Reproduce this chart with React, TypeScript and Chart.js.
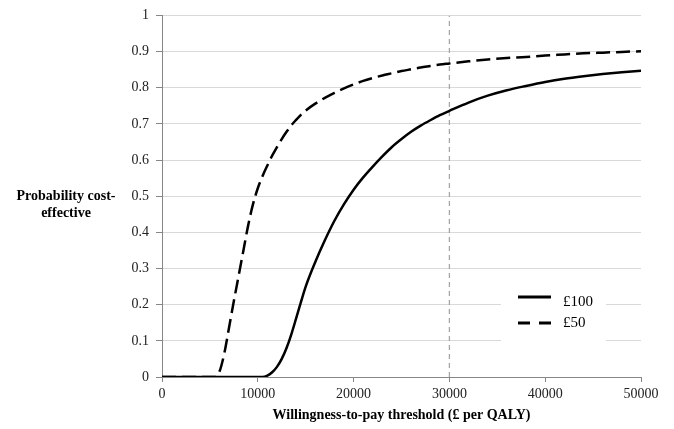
import React, { useEffect, useRef } from "react";
import Chart from "chart.js/auto";

const thresholds = [0, 5000, 5500, 6000, 6500, 7000, 7500, 8000, 8500, 9000, 9500, 10000, 10500, 11000, 11500, 12000, 12500, 13000, 13500, 14000, 14500, 15000, 16000, 17000, 18000, 19000, 20000, 21000, 22000, 23000, 24000, 25000, 26000, 27000, 28000, 29000, 30000, 32000, 34000, 36000, 38000, 40000, 42000, 44000, 46000, 48000, 50000];

const prob100 = [0, 0, 0, 0, 0, 0, 0, 0, 0, 0, 0, 0, 0, 0.004, 0.013, 0.028, 0.05, 0.08, 0.118, 0.162, 0.207, 0.25, 0.318, 0.378, 0.432, 0.478, 0.518, 0.552, 0.582, 0.61, 0.636, 0.658, 0.678, 0.695, 0.71, 0.724, 0.736, 0.759, 0.778, 0.793, 0.805, 0.816, 0.825, 0.832, 0.838, 0.843, 0.847];

const prob50 = [0, 0, 0, 0.015, 0.065, 0.137, 0.21, 0.28, 0.35, 0.42, 0.478, 0.522, 0.556, 0.585, 0.612, 0.636, 0.658, 0.678, 0.696, 0.711, 0.725, 0.737, 0.756, 0.772, 0.786, 0.798, 0.809, 0.819, 0.827, 0.834, 0.84, 0.846, 0.851, 0.856, 0.86, 0.864, 0.867, 0.873, 0.878, 0.882, 0.885, 0.889, 0.892, 0.895, 0.897, 0.899, 0.901];

const seriesLabels = ["£100", "£50"];
const refLineX = 30000;
const refLineY = [0, 1];
const xTitle = "Willingness-to-pay threshold (£ per QALY)";
const yTitleLines = ["Probability cost-", "effective"];

const SERIF = "'Liberation Serif', 'Times New Roman', serif";

export default function App() {
  const ref = useRef<HTMLCanvasElement | null>(null);

  useEffect(() => {
    document.body.style.margin = "0";
    if (!ref.current) return;

    const yTitlePlugin = {
      id: "yTitle",
      afterDraw(chart: any) {
        const ctx = chart.ctx;
        ctx.save();
        ctx.font = `bold 14px ${SERIF}`;
        ctx.fillStyle = "#000";
        ctx.textAlign = "center";
        ctx.textBaseline = "middle";
        yTitleLines.forEach((t, i) => ctx.fillText(t, 66, 196 + i * 17));
        ctx.restore();
      },
    };

    const legendPlugin = {
      id: "boxLegend",
      beforeDatasetsDraw(chart: any) {
        const ctx = chart.ctx;
        ctx.save();
        ctx.fillStyle = "#fff";
        ctx.fillRect(501, 283, 105, 64);
        ctx.restore();
      },
      afterDatasetsDraw(chart: any) {
        const ctx = chart.ctx;
        ctx.save();
        ctx.strokeStyle = "#000";
        ctx.lineWidth = 3;
        ctx.beginPath();
        ctx.moveTo(518, 297);
        ctx.lineTo(551, 297);
        ctx.stroke();
        ctx.setLineDash([12, 9]);
        ctx.beginPath();
        ctx.moveTo(518, 323);
        ctx.lineTo(551, 323);
        ctx.stroke();
        ctx.setLineDash([]);
        ctx.font = `15px ${SERIF}`;
        ctx.fillStyle = "#000";
        ctx.textAlign = "left";
        ctx.textBaseline = "middle";
        ctx.fillText(seriesLabels[0], 563, 302);
        ctx.fillText(seriesLabels[1], 563, 323);
        ctx.restore();
      },
    };

    const chart = new Chart(ref.current, {
      type: "line",
      data: {
        datasets: [
          {
            label: "ref",
            data: refLineY.map((y) => ({ x: refLineX, y })),
            borderColor: "#a6a6a6",
            borderWidth: 1.3,
            borderDash: [5, 4],
            pointRadius: 0,
            order: 3,
          },
          {
            label: seriesLabels[0],
            data: thresholds.map((x, i) => ({ x, y: prob100[i] })),
            borderColor: "#000",
            borderWidth: 2.5,
            pointRadius: 0,
            cubicInterpolationMode: "monotone",
            order: 1,
          },
          {
            label: seriesLabels[1],
            data: thresholds.map((x, i) => ({ x, y: prob50[i] })),
            borderColor: "#000",
            borderWidth: 2.5,
            borderDash: [14, 6],
            pointRadius: 0,
            cubicInterpolationMode: "monotone",
            order: 2,
          },
        ],
      },
      options: {
        animation: false,
        responsive: true,
        maintainAspectRatio: false,
        layout: { padding: { left: 0, right: 33, top: 14, bottom: 0 } },
        plugins: { legend: { display: false }, tooltip: { enabled: false } },
        scales: {
          x: {
            type: "linear",
            min: 0,
            max: 50000,
            afterFit: (s: any) => {
              s.height = 52;
            },
            ticks: {
              stepSize: 10000,
              color: "#222",
              font: { family: SERIF, size: 14 },
              padding: 4,
              maxRotation: 0,
              callback: (v: any) => String(v),
            },
            grid: { drawOnChartArea: false, drawTicks: true, tickLength: 5, color: "#868686" },
            border: { color: "#868686" },
            title: {
              display: true,
              text: xTitle,
              color: "#000",
              font: { family: SERIF, size: 14, weight: "bold" },
              padding: { top: 4, bottom: 5 },
            },
          },
          y: {
            min: 0,
            max: 1,
            afterFit: (s: any) => {
              s.width = 162;
            },
            ticks: {
              stepSize: 0.1,
              color: "#222",
              font: { family: SERIF, size: 14 },
              padding: 7,
              callback: (v: any) => String(Math.round(Number(v) * 10) / 10),
            },
            grid: { color: "#d9d9d9", tickColor: "#868686", tickLength: 6, lineWidth: 1 },
            border: { color: "#868686" },
          },
        },
      },
      plugins: [yTitlePlugin, legendPlugin],
    } as any);

    return () => chart.destroy();
  }, []);

  return (
    <div style={{ position: "relative", width: 674, height: 429 }}>
      <canvas ref={ref} />
    </div>
  );
}
